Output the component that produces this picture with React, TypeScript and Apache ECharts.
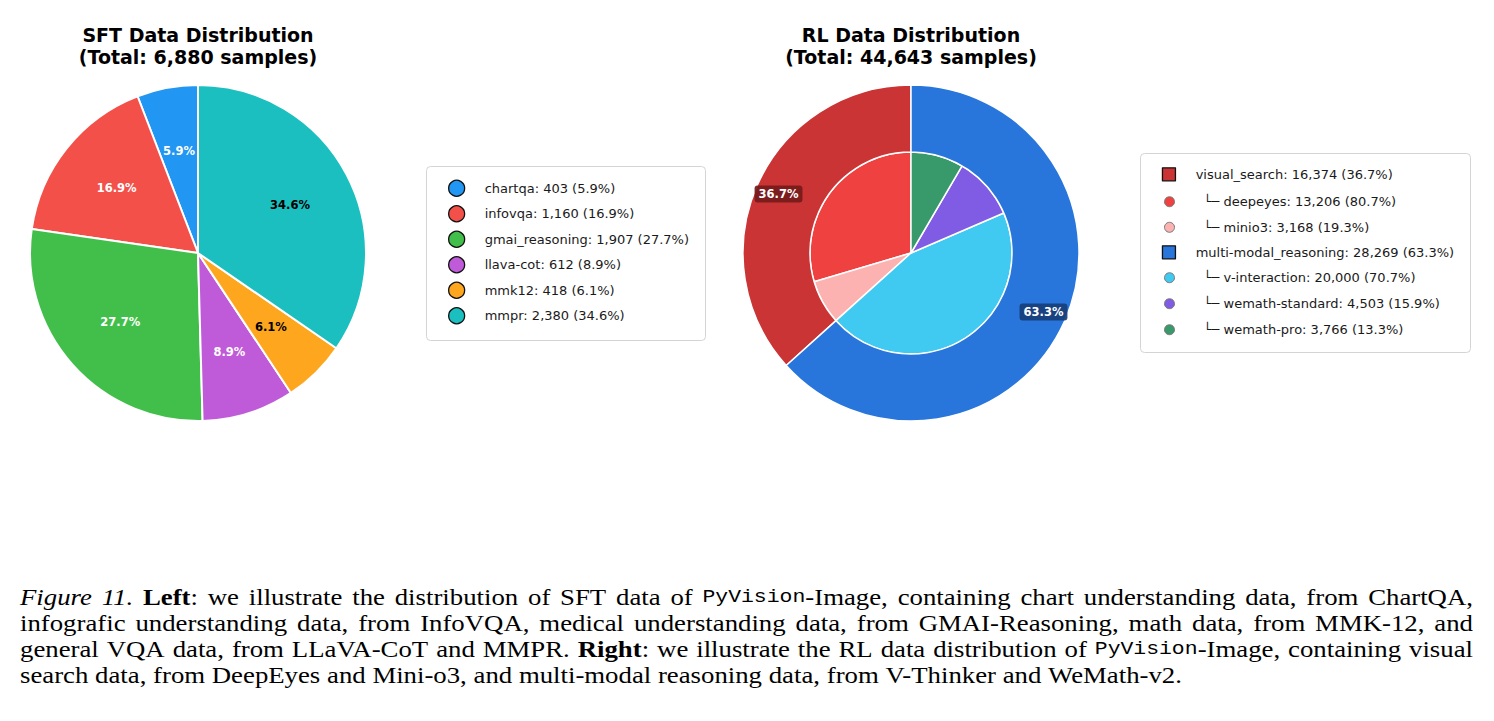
import React, { useEffect, useRef } from 'react';
import * as echarts from 'echarts';

// ---------------- DATA ----------------
const sftNames = ['chartqa', 'infovqa', 'gmai_reasoning', 'llava-cot', 'mmk12', 'mmpr'];
const sftValues = [403, 1160, 1907, 612, 418, 2380];

const rlGroupNames = ['visual_search', 'multi-modal_reasoning'];
const rlGroupValues = [16374, 28269];

const rlSubNames = ['deepeyes', 'minio3', 'v-interaction', 'wemath-standard', 'wemath-pro'];
const rlSubValues = [13206, 3168, 20000, 4503, 3766];
const rlSubGroup = [0, 0, 1, 1, 1];

const captionLines = [
  '_Figure 11._ *Left*: we illustrate the distribution of SFT data of `PyVision`-Image, containing chart understanding data, from ChartQA,',
  'infografic understanding data, from InfoVQA, medical understanding data, from GMAI-Reasoning, math data, from MMK-12, and',
  'general VQA data, from LLaVA-CoT and MMPR. *Right*: we illustrate the RL data distribution of `PyVision`-Image, containing visual',
  'search data, from DeepEyes and Mini-o3, and multi-modal reasoning data, from V-Thinker and WeMath-v2.',
];

// ---------------- STYLES ----------------
const sftColors = ['#2196F3', '#F4504A', '#42BF4B', '#BF5BD8', '#FFA61F', '#1BBFBF'];
const sftLabelColors = ['#ffffff', '#ffffff', '#ffffff', '#ffffff', '#000000', '#000000'];
const rlGroupColors = ['#CB3434', '#2876DB'];
const rlGroupLabelBg = ['rgba(118,26,26,0.92)', 'rgba(24,62,122,0.92)'];
const rlSubColors = ['#F04141', '#FDB2B2', '#41CAF1', '#805BE3', '#38996B'];

const SANS = 'DejaVu Sans';
const SERIF = 'Liberation Serif';
const MONO = 'Liberation Mono';
const CAP_FS = 22.5;
const CAP_MONO_FS = 18;
const CAP_SX = 1.19;

const fmt = (v: number) => v.toLocaleString('en-US');
const sum = (a: number[]) => a.reduce((s, x) => s + x, 0);

type Run = { s: 'n' | 'i' | 'b' | 'm'; t: string };

function parseLine(line: string): Run[][] {
  const runs: Run[] = [];
  const re = /_([^_]+)_|\*([^*]+)\*|`([^`]+)`|([^_*`]+)/g;
  let m: RegExpExecArray | null;
  while ((m = re.exec(line))) {
    if (m[1] != null) runs.push({ s: 'i', t: m[1] });
    else if (m[2] != null) runs.push({ s: 'b', t: m[2] });
    else if (m[3] != null) runs.push({ s: 'm', t: m[3] });
    else runs.push({ s: 'n', t: m[4] });
  }
  const words: Run[][] = [];
  let cur: Run[] = [];
  for (const r of runs) {
    const parts = r.t.split(' ');
    parts.forEach((p, idx) => {
      if (idx > 0) {
        if (cur.length) words.push(cur);
        cur = [];
      }
      if (p) cur.push({ s: r.s, t: p });
    });
  }
  if (cur.length) words.push(cur);
  return words;
}

function fontFor(s: Run['s']) {
  if (s === 'i') return `italic ${CAP_FS}px "${SERIF}"`;
  if (s === 'b') return `bold ${CAP_FS}px "${SERIF}"`;
  if (s === 'm') return `${CAP_MONO_FS}px "${MONO}"`;
  return `${CAP_FS}px "${SERIF}"`;
}

function buildCaption(): any[] {
  const canvas = document.createElement('canvas');
  const ctx = canvas.getContext('2d')!;
  const measure = (s: Run['s'], t: string) => {
    ctx.font = fontFor(s);
    return ctx.measureText(t).width * CAP_SX;
  };
  const rich = {
    n: { fontFamily: SERIF, fontSize: CAP_FS, color: '#000', lineHeight: 26 },
    i: { fontFamily: SERIF, fontStyle: 'italic', fontSize: CAP_FS, color: '#000', lineHeight: 26 },
    b: { fontFamily: SERIF, fontWeight: 'bold', fontSize: CAP_FS, color: '#000', lineHeight: 26 },
    m: { fontFamily: MONO, fontSize: CAP_MONO_FS, color: '#000', lineHeight: 26 },
  };
  const x0 = 20;
  const W = 1453;
  const baseY = 597;
  const lineStep = 26;
  const spaceW = measure('n', ' ');
  const els: any[] = [];
  captionLines.forEach((line, li) => {
    const words = parseLine(line);
    const widths = words.map((w) => w.reduce((s, r) => s + measure(r.s, r.t), 0));
    const total = sum(widths);
    const last = li === captionLines.length - 1;
    const gap = last ? spaceW : (W - total) / (words.length - 1);
    let x = x0;
    words.forEach((w, wi) => {
      els.push({
        type: 'text',
        x,
        y: baseY + li * lineStep,
        scaleX: CAP_SX,
        scaleY: 1,
        silent: true,
        style: {
          text: w.map((r) => `{${r.s}|${r.t}}`).join(''),
          rich,
          fontFamily: SERIF,
          fontSize: CAP_FS,
          verticalAlign: 'middle',
          align: 'left',
        },
      });
      x += widths[wi] + gap;
    });
  });
  return els;
}

function buildOption(): any {
  const sftTotal = sum(sftValues);
  const rlTotal = sum(rlGroupValues);
  const pct = (v: number, t: number) => ((v / t) * 100).toFixed(1);

  const sftData = sftNames.map((n, i) => ({ name: n, value: sftValues[i], itemStyle: { color: sftColors[i] } }));
  const sftLabelData = sftNames.map((n, i) => ({
    name: n,
    value: sftValues[i],
    label: { color: sftLabelColors[i] },
  }));
  const rlOuterData = rlGroupNames.map((n, i) => ({ name: n, value: rlGroupValues[i], itemStyle: { color: rlGroupColors[i] } }));
  const rlOuterLabelData = rlGroupNames.map((n, i) => ({
    name: n,
    value: rlGroupValues[i],
    label: { backgroundColor: rlGroupLabelBg[i] },
  }));
  const rlInnerData = rlSubNames.map((n, i) => ({ name: n, value: rlSubValues[i], itemStyle: { color: rlSubColors[i] } }));

  const legendText = { fontFamily: SANS, fontSize: 13, color: '#1a1a1a', lineHeight: 16 };
  const subFormatter = (name: string) => {
    const i = rlSubNames.indexOf(name);
    const g = rlGroupValues[rlSubGroup[i]];
    return `\u00a0\u00a0└─\u00a0${name}: ${fmt(rlSubValues[i])} (${pct(rlSubValues[i], g)}%)`;
  };
  const groupFormatter = (name: string) => {
    const i = rlGroupNames.indexOf(name);
    return `${name}: ${fmt(rlGroupValues[i])} (${pct(rlGroupValues[i], rlTotal)}%)`;
  };
  const groupLegend = (idx: number, top: number) => ({
    orient: 'vertical',
    left: 1161.8,
    top,
    itemWidth: 13,
    itemHeight: 13,
    padding: 0,
    selectedMode: false,
    z: 10,
    icon: 'rect',
    textStyle: { ...legendText, padding: [0, 0, 0, 15.2] },
    data: [{ name: rlGroupNames[idx], itemStyle: { color: rlGroupColors[idx], borderColor: '#111', borderWidth: 1.3 } }],
    formatter: groupFormatter,
  });
  const subLegend = (idxs: number[], top: number, gap: number) => ({
    orient: 'vertical',
    left: 1164,
    top,
    itemWidth: 10,
    itemHeight: 10,
    itemGap: gap,
    padding: 0,
    selectedMode: false,
    z: 10,
    icon: 'circle',
    textStyle: { ...legendText, padding: [0, 0, 0, 16] },
    data: idxs.map((i) => ({ name: rlSubNames[i], itemStyle: { color: rlSubColors[i], borderColor: '#7a7a7a', borderWidth: 1 } })),
    formatter: subFormatter,
  });

  const titleStyle = { fontFamily: SANS, fontWeight: 'bold', fontSize: 19, lineHeight: 22, color: '#000' };

  return {
    animation: false,
    backgroundColor: '#ffffff',
    title: [
      {
        text: `SFT Data Distribution\n(Total: ${fmt(sftTotal)} samples)`,
        left: 198,
        top: 24,
        padding: 0,
        textAlign: 'center',
        textStyle: titleStyle,
      },
      {
        text: `RL Data Distribution\n(Total: ${fmt(rlTotal)} samples)`,
        left: 911,
        top: 24,
        padding: 0,
        textAlign: 'center',
        textStyle: titleStyle,
      },
    ],
    legend: [
      {
        orient: 'vertical',
        left: 448,
        top: 179.6,
        itemWidth: 16,
        itemHeight: 16,
        itemGap: 8.2,
        padding: 0,
        icon: 'circle',
        selectedMode: false,
        z: 10,
        data: sftNames.map((n, i) => ({ name: n, itemStyle: { color: sftColors[i], borderColor: '#111', borderWidth: 1.3 } })),
        formatter: (name: string) => {
          const i = sftNames.indexOf(name);
          return `${name}: ${fmt(sftValues[i])} (${pct(sftValues[i], sftTotal)}%)`;
        },
        textStyle: { ...legendText, padding: [0, 0, 0, 15] },
      },
      groupLegend(0, 166.3),
      subLegend([0, 1], 193.7, 9.6),
      groupLegend(1, 244.3),
      subLegend([2, 3, 4], 269.7, 10),
    ],
    graphic: [
      {
        type: 'rect',
        z: 1,
        silent: true,
        shape: { x: 426.5, y: 166.5, width: 279, height: 174, r: 4 },
        style: { fill: '#ffffff', stroke: '#d4d4d4', lineWidth: 1 },
      },
      {
        type: 'rect',
        z: 1,
        silent: true,
        shape: { x: 1140.5, y: 153.5, width: 330, height: 199, r: 4 },
        style: { fill: '#ffffff', stroke: '#d4d4d4', lineWidth: 1 },
      },
      ...buildCaption(),
    ],
    series: [
      {
        type: 'pie',
        name: 'SFT',
        center: [198, 253],
        radius: [0, 168],
        startAngle: 90,
        clockwise: false,
        silent: true,
        label: { show: false },
        labelLine: { show: false },
        itemStyle: { borderColor: '#ffffff', borderWidth: 2 },
        data: sftData,
      },
      {
        type: 'pie',
        name: 'RL inner',
        center: [911, 253],
        radius: [0, 101],
        startAngle: 90,
        clockwise: false,
        silent: true,
        label: { show: false },
        labelLine: { show: false },
        itemStyle: { borderColor: '#ffffff', borderWidth: 1.5 },
        data: rlInnerData,
      },
      {
        type: 'pie',
        name: 'RL outer',
        center: [911, 253],
        radius: [101, 168],
        startAngle: 90,
        clockwise: false,
        silent: true,
        label: { show: false },
        labelLine: { show: false },
        itemStyle: { borderColor: '#ffffff', borderWidth: 1.5 },
        data: rlOuterData,
      },
      {
        type: 'pie',
        name: 'SFT labels',
        center: [198, 253],
        radius: [0, 202],
        startAngle: 90,
        clockwise: false,
        silent: true,
        z: 5,
        itemStyle: { color: 'rgba(0,0,0,0)', borderWidth: 0 },
        labelLine: { show: false },
        label: {
          show: true,
          position: 'inside',
          fontFamily: SANS,
          fontWeight: 'bold',
          fontSize: 11.5,
          formatter: (p: any) => `${pct(p.value, sftTotal)}%`,
        },
        data: sftLabelData,
      },
      {
        type: 'pie',
        name: 'RL labels',
        center: [911, 253],
        radius: [116, 168],
        startAngle: 90,
        clockwise: false,
        silent: true,
        z: 5,
        itemStyle: { color: 'rgba(0,0,0,0)', borderWidth: 0 },
        labelLine: { show: false },
        label: {
          show: true,
          position: 'inside',
          fontFamily: SANS,
          fontWeight: 'bold',
          fontSize: 11.5,
          color: '#ffffff',
          padding: [3, 4, 2, 4],
          borderRadius: 3,
          formatter: (p: any) => `${pct(p.value, rlTotal)}%`,
        },
        data: rlOuterLabelData,
      },
    ],
  };
}

export default function App() {
  const ref = useRef<HTMLDivElement>(null);
  useEffect(() => {
    if (!ref.current) return;
    const chart = echarts.init(ref.current, null, { renderer: 'svg' });
    chart.setOption(buildOption());
    return () => chart.dispose();
  }, []);
  return (
    <div
      ref={ref}
      style={{ position: 'fixed', left: 0, top: 0, width: 1494, height: 721, background: '#ffffff' }}
    />
  );
}
